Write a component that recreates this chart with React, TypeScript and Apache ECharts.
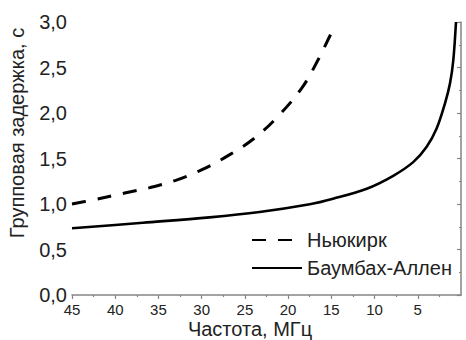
import React, { useEffect, useRef } from "react";
import * as echarts from "echarts";

const newkirkX = [45, 42.8, 38.9, 36.0, 33.0, 29.9, 26.8, 23.8, 20.9, 18.3, 16.5, 15.1, 14.6];
const newkirkY = [1.0, 1.04, 1.12, 1.18, 1.26, 1.38, 1.54, 1.73, 1.99, 2.29, 2.59, 2.86, 2.95];

const baumX = [45, 36.8, 29.1, 23.3, 17.5, 14.8, 10.9, 7.84, 5.53, 3.97, 2.82, 1.85, 1.27, 0.89, 0.58];
const baumY = [0.733, 0.794, 0.853, 0.912, 0.997, 1.058, 1.168, 1.31, 1.46, 1.63, 1.83, 2.107, 2.326, 2.582, 3.0];

const xTicks = [5, 10, 15, 20, 25, 30, 35, 40, 45];
const seriesNames = ["Ньюкирк", "Баумбах-Аллен"];
const xTitle = "Частота, МГц";
const yTitle = "Групповая задержка, с";

const FONT = "'Liberation Sans', Arial, sans-serif";
const AXIS = "#858585";
const TEXT = "#222";

export default function App() {
  const ref = useRef<HTMLDivElement>(null);
  useEffect(() => {
    if (!ref.current) return;
    const chart = echarts.init(ref.current, undefined, { renderer: "svg" });
    const zip = (xs: number[], ys: number[]) => xs.map((x, i) => [x, ys[i]]);
    chart.setOption({
      animation: false,
      backgroundColor: "#fff",
      grid: { left: 72, right: 5, top: 22, bottom: 45, containLabel: false },
      xAxis: {
        type: "value",
        inverse: true,
        min: 0,
        max: 45,
        interval: 5,
        axisLine: { lineStyle: { color: AXIS, width: 1.5 } },
        axisTick: { show: true, length: 4, customValues: xTicks, lineStyle: { color: AXIS, width: 1.2 } },
        minorTick: { show: true, splitNumber: 2, length: 2, lineStyle: { color: AXIS, width: 1.2 } },
        axisLabel: {
          customValues: xTicks,
          margin: 7,
          fontSize: 15,
          color: TEXT,
          fontFamily: FONT,
        },
        splitLine: { show: false },
      },
      yAxis: {
        type: "value",
        min: 0,
        max: 3,
        interval: 0.5,
        axisLine: { show: true, lineStyle: { color: AXIS, width: 1.5 } },
        axisTick: { show: true, length: 4, lineStyle: { color: AXIS, width: 1.2 } },
        minorTick: { show: true, splitNumber: 2, length: 2, lineStyle: { color: AXIS, width: 1.2 } },
        axisLabel: {
          margin: 5,
          fontSize: 20,
          color: TEXT,
          fontFamily: FONT,
          formatter: (v: number) => v.toFixed(1).replace(".", ","),
        },
        splitLine: { show: false },
      },
      legend: {
        orient: "vertical",
        left: 251,
        top: 230,
        padding: 0,
        itemWidth: 50,
        itemHeight: 14,
        itemGap: 8,
        itemStyle: { opacity: 0 },
        textStyle: { fontSize: 20, color: TEXT, fontFamily: FONT },
        data: seriesNames,
      },
      graphic: [
        {
          type: "text",
          x: 250,
          y: 329,
          style: {
            text: xTitle,
            fontSize: 20,
            fontFamily: FONT,
            fill: TEXT,
            align: "center",
            verticalAlign: "middle",
          },
        },
        {
          type: "text",
          x: 17,
          y: 133,
          rotation: Math.PI / 2,
          style: {
            text: yTitle,
            fontSize: 20,
            fontFamily: FONT,
            fill: TEXT,
            align: "center",
            verticalAlign: "middle",
          },
        },
      ],
      series: [
        {
          name: seriesNames[0],
          type: "line",
          data: zip(newkirkX, newkirkY),
          smooth: 0.35,
          symbol: "none",
          lineStyle: { color: "#000", width: 3, type: [14, 12] },
          itemStyle: { color: "#000" },
        },
        {
          name: seriesNames[1],
          type: "line",
          data: zip(baumX, baumY),
          smooth: 0.35,
          symbol: "none",
          lineStyle: { color: "#000", width: 2.6 },
          itemStyle: { color: "#000" },
        },
      ],
    });
    return () => chart.dispose();
  }, []);
  return <div ref={ref} style={{ width: 466, height: 340, position: "absolute", left: 0, top: 0 }} />;
}
